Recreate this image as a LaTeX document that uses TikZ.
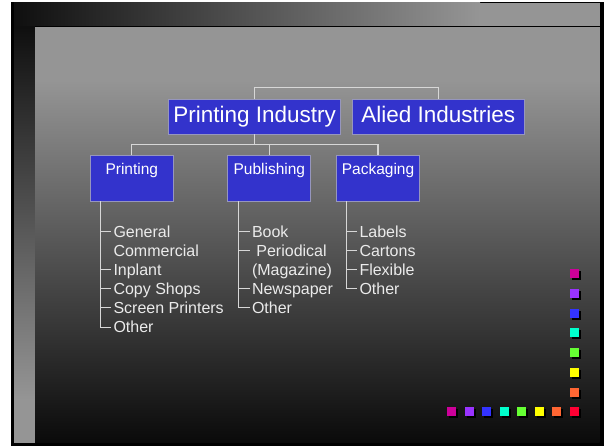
\documentclass[tikz,border=0pt]{standalone}
\usepackage{fontspec}
\setmainfont{Liberation Sans}
\definecolor{bgray}{RGB}{149,149,149}
\definecolor{bdark}{RGB}{15,15,15}
\definecolor{bbot}{RGB}{10,10,10}
\definecolor{boxblue}{RGB}{51,51,204}
\definecolor{boxline}{RGB}{150,150,190}
\definecolor{linegray}{RGB}{215,215,215}
\definecolor{txtgray}{RGB}{235,235,235}
\definecolor{sqmag}{RGB}{204,0,153}
\definecolor{sqpur}{RGB}{153,51,255}
\definecolor{sqblu}{RGB}{51,51,255}
\definecolor{sqcya}{RGB}{0,255,204}
\definecolor{sqgre}{RGB}{102,255,51}
\definecolor{sqyel}{RGB}{255,255,0}
\definecolor{sqora}{RGB}{255,102,51}
\definecolor{sqred}{RGB}{255,0,51}
\begin{document}
\begin{tikzpicture}[x=1pt,y=-1pt,
  bigbox/.style={draw=boxline, line width=0.8pt, fill=boxblue, text=white,
    minimum width=172pt, minimum height=35pt, inner sep=0pt,
    font=\fontsize{22.5}{27}\selectfont, text height=16.5pt, text depth=4.7pt},
  smallbox/.style={draw=boxline, line width=0.8pt, fill=boxblue, text=white,
    text width=83pt, align=center, inner sep=0pt,
    font=\fontsize{15.5}{18}\selectfont, text height=19.3pt, text depth=26.7pt},
  item/.style={anchor=base west, text=txtgray, inner xsep=2.3pt, inner ysep=0pt,
    text height=11.5pt, text depth=0pt, font=\fontsize{16}{19}\selectfont},
  conn/.style={draw=linegray, line width=1.2pt},
  tree/.style={draw=linegray, line width=1pt}]
\useasboundingbox (0,0) rectangle (609,446);
% background
\fill[white] (0,0) rectangle (609,446);
\fill[black] (11,2) rectangle (603.5,445.5);
\shade[left color=bdark, right color=bgray] (14,3) rectangle (480,27);
\fill[bgray] (479.5,3) rectangle (599.5,27);
\shade[top color=bdark, bottom color=bgray] (14,27) rectangle (35,400);
\fill[bgray] (14,399.5) rectangle (35,442.5);
\fill[bgray] (35,27) rectangle (599.5,80.5);
\shade[top color=bgray, bottom color=bbot] (35,80) rectangle (599.5,442.5);
\draw[black, line width=1pt] (35,27) -- (600,27);
% boxes
\node[bigbox] (pi) at (254.7,116.5) {Printing Industry};
\node[bigbox] (ai) at (438.3,116.5) {Alied Industries};
\node[smallbox] (pr) at (131.8,178) {Printing};
\node[smallbox] (pu) at (269.3,178) {Publishing};
\node[smallbox] (pk) at (378,178) {Packaging};
% connectors
\coordinate (bar1) at (0,87.3);
\coordinate (bar2) at (0,144.3);
\draw[conn] (pi.north) -- (pi.north |- bar1) -- (ai.north |- bar1) -- (ai.north);
\draw[conn] (pi.south) -- (pi.south |- bar2);
\draw[conn] (pr.north) -- (pr.north |- bar2) -- (pk.north |- bar2) -- (pk.north);
\draw[conn] (pu.north) -- (pu.north |- bar2);
% Printing list
\node[item] (a1) at (111,237.3) {General};
\node[item] (a2) at (111,256.4) {Commercial};
\node[item] (a3) at (111,275.5) {Inplant};
\node[item] (a4) at (111,294.6) {Copy Shops};
\node[item] (a5) at (111,313.7) {Screen Printers};
\node[item] (a6) at (111,332.8) {Other};
\coordinate (at) at ([xshift=10.4pt]pr.south west);
\draw[tree] (at) |- (a6.west);
\foreach \n in {a1,a3,a4,a5} \draw[tree] (at |- \n.west) -- (\n.west);
% Publishing list
\node[item] (b1) at (249.5,237.3) {Book};
\node[item] (b2) at (249.5,256.4) {\hspace*{4.4pt}Periodical};
\node[item] (b3) at (249.5,275.5) {(Magazine)};
\node[item] (b4) at (249.5,294.6) {Newspaper};
\node[item] (b5) at (249.5,313.7) {Other};
\coordinate (bt) at ([xshift=10.6pt]pu.south west);
\draw[tree] (bt) |- (b5.west);
\foreach \n in {b1,b2,b4} \draw[tree] (bt |- \n.west) -- (\n.west);
% Packaging list
\node[item] (c1) at (357,237.3) {Labels};
\node[item] (c2) at (357,256.4) {Cartons};
\node[item] (c3) at (357,275.5) {Flexible};
\node[item] (c4) at (357,294.6) {Other};
\coordinate (ct) at ([xshift=10pt]pk.south west);
\draw[tree] (ct) |- (c4.west);
\foreach \n in {c1,c2,c3} \draw[tree] (ct |- \n.west) -- (\n.west);
% decorative squares
\foreach \c [count=\i from 0] in {sqmag,sqpur,sqblu,sqcya,sqgre,sqyel,sqora} {
  \fill[black] (572,271.3+19.7*\i) rectangle ++(9,9);
  \fill[\c] (570,269.3+19.7*\i) rectangle ++(9,9);
}
\foreach \c [count=\i from 0] in {sqmag,sqpur,sqblu,sqcya,sqgre,sqyel,sqora,sqred} {
  \fill[black] (449+17.57*\i,409.3) rectangle ++(9,9);
  \fill[\c] (447+17.57*\i,407.3) rectangle ++(9,9);
}
\end{tikzpicture}
\end{document}
